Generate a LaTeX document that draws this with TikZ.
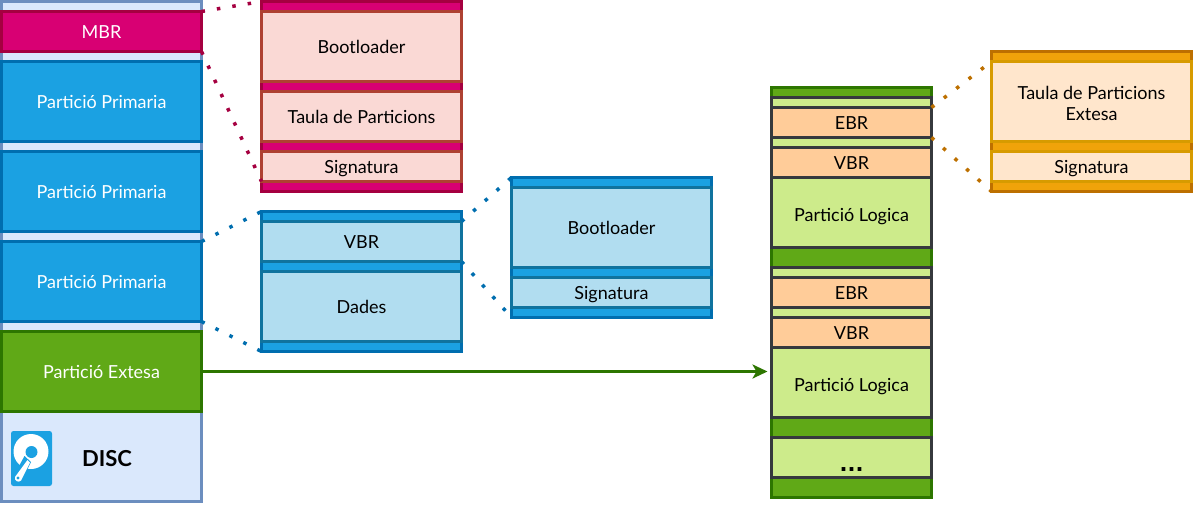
\documentclass[tikz,border=0pt]{standalone}
\usepackage{fontspec}
\setmainfont{Lato}
\newfontfamily\dotfont{DejaVu Sans}
\usetikzlibrary{positioning,arrows.meta}
\definecolor{discfill}{HTML}{DAE8FC}
\definecolor{discline}{HTML}{6C8EBF}
\definecolor{mbrfill}{HTML}{D80073}
\definecolor{mbrline}{HTML}{A50040}
\definecolor{mbrsub}{HTML}{FAD9D5}
\definecolor{mbrsubline}{HTML}{AE4132}
\definecolor{primfill}{HTML}{1BA1E2}
\definecolor{primline}{HTML}{006EAF}
\definecolor{primsub}{HTML}{B1DDF0}
\definecolor{primsubline}{HTML}{10739E}
\definecolor{extfill}{HTML}{60A917}
\definecolor{extline}{HTML}{2D7600}
\definecolor{logfill}{HTML}{CDEB8B}
\definecolor{logline}{HTML}{36393D}
\definecolor{ebrfill}{HTML}{FFCC99}
\definecolor{tabfill}{HTML}{F0A30A}
\definecolor{tabline}{HTML}{BD7000}
\definecolor{tabsub}{HTML}{FFE6CC}
\definecolor{tabsubline}{HTML}{D79B00}
\tikzset{
  labeltext/.style={inner sep=0pt,align=center,text height=15pt,text depth=1pt,font=\fontsize{18}{21}\selectfont},
  block/.style={labeltext,draw,rectangle,line width=3pt,outer sep=0pt,minimum width=#1},
  block/.default=200pt,
  mbrbox/.style={block,fill=mbrfill,draw=mbrline,text=white},
  mbrpart/.style={block,fill=mbrsub,draw=mbrsubline},
  primbox/.style={block,fill=primfill,draw=primline,text=white},
  primpart/.style={block,fill=primsub,draw=primsubline},
  extbox/.style={block,fill=extfill,draw=extline,text=white},
  logbox/.style={block=160pt,fill=logfill,draw=logline},
  ebrbox/.style={block=160pt,fill=ebrfill,draw=logline},
  tabbox/.style={block,fill=tabfill,draw=tabline},
  tabpart/.style={block,fill=tabsub,draw=tabsubline},
  link/.style={line width=3.5pt,dash pattern=on 3.5pt off 12.1pt}
}
\begin{document}
\begin{tikzpicture}[x=1pt,y=-1pt,node distance=10pt]
	\useasboundingbox (0,0) rectangle (1194,504);
	% disc column
	\node[block,fill=discfill,draw=discline,minimum height=500pt] (disc) at (101.5,251.5) {};
	\node[mbrbox,minimum height=40pt] (mbr) at (101.5,31.5) {MBR};
	\node[primbox,minimum height=80pt] (prim_1) [below = of mbr] {Partició Primaria};
	\node[primbox,minimum height=80pt] (prim_2) [below = of prim_1] {Partició Primaria};
	\node[primbox,minimum height=80pt] (prim_3) [below = of prim_2] {Partició Primaria};
	\node[extbox,minimum height=80pt] (ext) [below = of prim_3] {Partició Extesa};
	\node[font=\fontsize{22}{24}\selectfont\bfseries] (disc_label) at (107,459) {DISC};
	% disc icon
	\fill[primfill,rounded corners=2.5pt] (11,431) rectangle (52,486);
	\fill[white] (31,451.5) circle (17.5pt);
	\fill[primfill] (31.5,452) circle (6pt);
	\fill[primfill] (24.5,456) -- (31,462) -- (20,484) -- (12.5,478) -- cycle;
	\fill[white] (27.5,460) -- (30,462.5) -- (21,480.5) .. controls (18.5,483) and (14,481) .. (15,477) -- cycle;
	\fill[primfill] (18,478) circle (1.6pt);
	% mbr stack
	\node[mbrbox,minimum height=190pt] (mbr_stack) at (361.5,96.5) {};
	\node[mbrpart,minimum height=70pt] (mbr_boot) at (361.5,46.5) {Bootloader};
	\node[mbrpart,minimum height=50pt] (mbr_tab) [below = of mbr_boot] {Taula de Particions};
	\node[mbrpart,minimum height=30pt] (mbr_sig) [below = of mbr_tab] {Signatura};
	% primary partition stack
	\node[primbox,minimum height=140pt] (part_stack) at (361.5,281.5) {};
	\node[primpart,minimum height=40pt] (part_vbr) at (361.5,241.5) {VBR};
	\node[primpart,minimum height=70pt] (part_data) [below = of part_vbr] {Dades};
	% vbr stack
	\node[primbox,minimum height=140pt] (vbr_stack) at (611.5,247.5) {};
	\node[primpart,minimum height=80pt] (vbr_boot) at (611.5,227.5) {Bootloader};
	\node[primpart,minimum height=30pt] (vbr_sig) [below = of vbr_boot] {Signatura};
	% extended stack
	\node[block=160pt,fill=extfill,draw=extline,minimum height=410pt] (ext_stack) at (851.5,292.5) {};
	\node[logbox,minimum height=150pt] (log_1) at (851.5,172.5) {};
	\node[ebrbox,minimum height=30pt] (ebr_1) at (851.5,122.5) {EBR};
	\node[ebrbox,minimum height=30pt] (vbr_1) [below = of ebr_1] {VBR};
	\node[labeltext] (log_1_label) at (851.5,214.5) {Partició Logica};
	\node[logbox,minimum height=150pt] (log_2) at (851.5,342.5) {};
	\node[ebrbox,minimum height=30pt] (ebr_2) at (851.5,292.5) {EBR};
	\node[ebrbox,minimum height=30pt] (vbr_2) [below = of ebr_2] {VBR};
	\node[labeltext] (log_2_label) at (851.5,384.5) {Partició Logica};
	\node[logbox,minimum height=40pt] (log_3) at (851.5,457.5) {};
	\node[anchor=base,inner sep=0pt,font=\dotfont\bfseries\fontsize{21}{24}\selectfont] (log_3_label) at (851.5,471) {...};
	% table stack
	\node[tabbox,minimum height=140pt] (tab_stack) at (1091.5,121.5) {};
	\node[tabpart,minimum height=80pt,text height=,text depth=] (tab_main) at (1091.5,101.5) {\rule{0pt}{17pt}Taula de Particions\\Extesa};
	\node[tabpart,minimum height=30pt] (tab_sig) [below = of tab_main] {Signatura};
	% links
	\coordinate (arrow_end) at (767.5,371.5);
	\draw[link,draw=mbrline] (mbr.north east) -- (mbr_stack.north west);
	\draw[link,draw=mbrline] (mbr.south east) -- (mbr_sig.south west);
	\draw[link,draw=primline] (prim_3.north east) -- (part_stack.north west);
	\draw[link,draw=primline] (prim_3.south east) -- (part_stack.south west);
	\draw[link,draw=primline] (part_vbr.north east) -- (vbr_stack.north west);
	\draw[link,draw=primline] (part_vbr.south east) -- (vbr_stack.south west);
	\draw[link,draw=tabline] (ebr_1.north east) -- (tab_main.north west);
	\draw[link,draw=tabline] (ebr_1.south east) -- (tab_stack.south west);
	\draw[-{Stealth[length=15pt,width=14pt,inset=4pt]},line width=3pt,draw=extline,fill=extline] (ext.east) -- (arrow_end);
\end{tikzpicture}
\end{document}
